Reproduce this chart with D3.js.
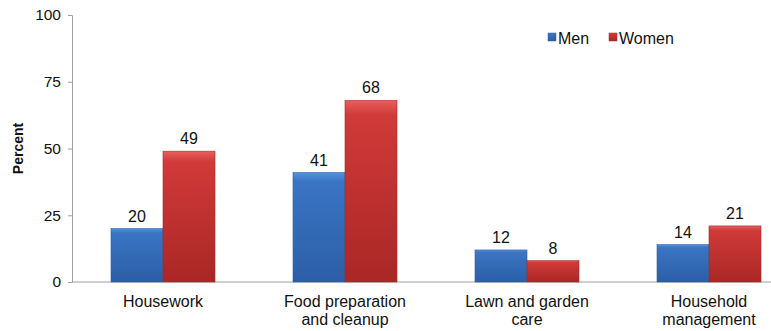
<!DOCTYPE html>
<html><head><meta charset="utf-8">
<script src="https://cdn.jsdelivr.net/npm/d3@7"></script>
<style>body{margin:0;background:#fff}svg{display:block;font-family:"Liberation Sans",Arial,sans-serif}</style>
</head><body>
<svg id="c" width="771" height="331"></svg>
<script>
const categories = [["Housework"], ["Food preparation", "and cleanup"], ["Lawn and garden", "care"], ["Household", "management"]];
const seriesNames = ["Men", "Women"];
const men = [20, 41, 12, 14];
const women = [49, 68, 8, 21];
const yTicks = [0, 25, 50, 75, 100];

(function () {
const svg = d3.select("#c");
const mLeft = 72, mRight = 800, mTop = 15, mBottom = 282;
const catKeys = categories.map(c => c.join(" "));
const x0 = d3.scaleBand().domain(catKeys).range([mLeft, mRight]);
const groupW = 104;
const x1 = d3.scaleBand().domain(seriesNames)
  .range([(x0.bandwidth() - groupW) / 2, (x0.bandwidth() + groupW) / 2]);
const y = d3.scaleLinear().domain([0, 100]).range([mBottom, mTop]);

const defs = svg.append("defs");
const grads = {Men: ["#5193e0", "#3a75c4", "#2c5ea6"], Women: ["#e85f5c", "#d13a38", "#a92726"]};
Object.entries(grads).forEach(([k, c]) => {
  const g = defs.append("linearGradient").attr("id", "g" + k).attr("x1", 0).attr("y1", 0).attr("x2", 0).attr("y2", 1);
  g.append("stop").attr("offset", "0").attr("stop-color", c[0]);
  g.append("stop").attr("offset", "0.08").attr("stop-color", c[1]);
  g.append("stop").attr("offset", "1").attr("stop-color", c[2]);
});

const yAxis = d3.axisLeft(y).tickValues(yTicks).tickSize(4).tickPadding(7);
const ya = svg.append("g").attr("transform", `translate(${mLeft},0)`).call(yAxis);
ya.select(".domain").attr("stroke", "#a0a0a0");
ya.selectAll(".tick line").attr("stroke", "#a0a0a0");
ya.selectAll(".tick text").attr("font-size", 15.5).attr("fill", "#111").attr("font-family", "Liberation Sans, Arial, sans-serif");

svg.append("line").attr("x1", mLeft).attr("x2", 771).attr("y1", y(0)).attr("y2", y(0)).attr("stroke", "#a0a0a0");

const data = catKeys.map((k, i) => ({k, vals: [{s: "Men", v: men[i]}, {s: "Women", v: women[i]}]}));
const g = svg.selectAll(".grp").data(data).join("g").attr("transform", d => `translate(${x0(d.k)},0)`);
g.selectAll("rect").data(d => d.vals).join("rect")
  .attr("x", d => x1(d.s)).attr("width", x1.bandwidth())
  .attr("y", d => y(d.v)).attr("height", d => y(0) - y(d.v))
  .attr("fill", d => `url(#g${d.s})`)
  .attr("stroke", d => d.s === "Men" ? "#2d5fa3" : "#a52b2a").attr("stroke-width", 0.6);
g.selectAll("text.val").data(d => d.vals).join("text").attr("class", "val")
  .attr("x", d => x1(d.s) + x1.bandwidth() / 2).attr("y", d => y(d.v) - 7)
  .attr("text-anchor", "middle").attr("font-size", 16).attr("fill", "#111").text(d => d.v);

categories.forEach((lines, i) => {
  const cx = x0(catKeys[i]) + x0.bandwidth() / 2;
  const t = svg.append("text").attr("x", cx).attr("y", 307)
    .attr("text-anchor", "middle").attr("font-size", 16).attr("fill", "#111");
  lines.forEach((l, j) => t.append("tspan").attr("x", cx).attr("dy", j ? 18 : 0).text(l));
});

svg.append("text").attr("transform", `translate(23,${(mTop + mBottom) / 2}) rotate(-90)`)
  .attr("text-anchor", "middle").attr("font-size", 14).attr("font-weight", "bold").attr("fill", "#111").text("Percent");

const legX = [548, 609];
seriesNames.forEach((s, i) => {
  svg.append("rect").attr("x", legX[i]).attr("y", 33).attr("width", 8).attr("height", 8).attr("fill", `url(#g${s})`)
    .attr("stroke", s === "Men" ? "#2d5fa3" : "#a52b2a").attr("stroke-width", 0.5);
  svg.append("text").attr("x", legX[i] + 10).attr("y", 43.5).attr("font-size", 16).attr("fill", "#111").text(s);
});
})();
</script>
</body></html>
